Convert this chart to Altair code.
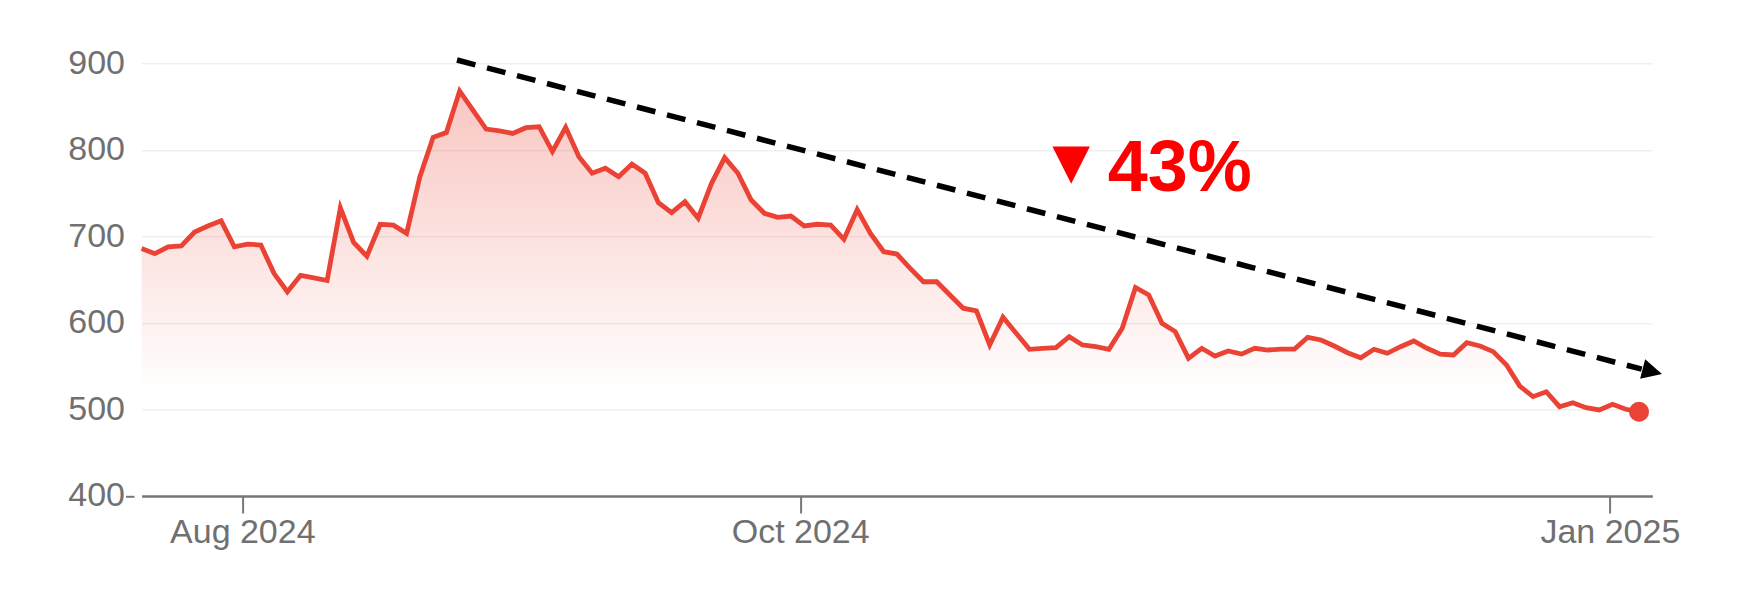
import altair as alt
import pandas as pd

# ---- data (evenly spaced trading sessions) ----
price = [
    686, 680, 688, 689, 705, 712, 718, 688, 691, 690,
    657, 636, 655, 652, 649, 733, 693, 677, 714,
    713, 703.5, 769, 814.5, 820, 868, 846, 824, 822, 819, 825.6, 826.7, 798, 826, 792, 773, 778.7, 769,
    783.6, 773, 739, 727.4, 740, 721, 761, 791, 773, 742, 726.7, 722, 723.5, 712, 714, 713, 696.6, 731,
    703.5, 682.3, 679.6, 663, 647.6, 647.6, 632.3, 617, 614, 574.5, 606.5, 588, 569.5, 570.7, 571.4, 584, 574.5, 572.5,
    569.5, 593.8, 641, 632.3, 599.6, 590, 559, 570.7, 561.8, 567.6, 564, 570.7, 568.7, 569.8, 569.8, 583.4, 580.3, 573.3,
    565.6, 559.8, 569.5, 564.9, 572.5, 579.1, 570.7, 564, 563, 577.2, 573.3, 566.8, 551.4, 527, 514.8, 520.5, 503.2,
    507.8, 502, 499.4, 506, 500.2, 497.4,
]
session = list(range(len(price)))

x_tick_labels = ["Aug 2024", "Oct 2024", "Jan 2025"]
x_tick_session = [7.6, 49.7, 110.8]
y_ticks = [400, 500, 600, 700, 800, 900]

# trend arrow (session, price) and the annotation
arrow_session = [23.8, 113.2]
arrow_price = [903.8, 546.6]
arrow_head_session = [114.0]
arrow_head_price = [543.9]
arrow_angle = 14.6

label_text = ["43%"]
label_session = [72.9]
label_price = [752.8]
tri_text = ["▼"]
tri_session = [70.14]
tri_price = [783.1]

df = pd.DataFrame({"session": session, "price": price})
last = df.iloc[[-1]]
arrow_df = pd.DataFrame({"session": arrow_session, "price": arrow_price})
head_df = pd.DataFrame({"session": arrow_head_session, "price": arrow_head_price})
label_df = pd.DataFrame({"session": label_session, "price": label_price, "t": label_text})
tri_df = pd.DataFrame({"session": tri_session, "price": tri_price, "t": tri_text})

RED = "#EA4335"
GRAY = "#707070"
FONT = "Liberation Sans"

x_scale = alt.Scale(domain=[0, 114], nice=False, zero=False)
y_scale = alt.Scale(domain=[400, 900], nice=False, zero=False)

label_js = "[" + ",".join("'%s'" % s for s in x_tick_labels) + "]"
pos_js = "[" + ",".join(str(v) for v in x_tick_session) + "]"

x_axis = alt.Axis(
    values=x_tick_session,
    labelExpr=f"{label_js}[indexof({pos_js}, datum.value)]",
    title=None, grid=False,
    domainColor="#777777", domainWidth=2.5,
    tickColor="#777777", tickWidth=2, tickSize=17,
    labelFont=FONT, labelFontSize=34, labelColor=GRAY, labelPadding=3,
    labelFlush=False, labelOverlap=False,
)
y_axis = alt.Axis(
    values=y_ticks, title=None, grid=True, gridColor="#efefef", gridWidth=1.5,
    domain=False, ticks=True, tickSize=8.5, tickWidth=2,
    tickColor={"condition": {"test": "datum.value === 400", "value": "#777777"}, "value": "rgba(0,0,0,0)"},
    offset=7.6, labelPadding=1,
    labelFont=FONT, labelFontSize=34, labelColor=GRAY,
)

X = alt.X("session:Q", scale=x_scale, axis=x_axis)
Y = alt.Y("price:Q", scale=y_scale, axis=y_axis)

area = alt.Chart(df).mark_area(
    color=alt.Gradient(
        gradient="linear", x1=0, y1=0, x2=0, y2=1,
        stops=[alt.GradientStop(color="rgba(234,67,53,0.30)", offset=0),
               alt.GradientStop(color="rgba(234,67,53,0.0)", offset=0.75)],
    )
).encode(x=X, y=Y, y2=alt.datum(400))

line = alt.Chart(df).mark_line(color=RED, strokeWidth=4.8).encode(x="session:Q", y="price:Q")

dot = alt.Chart(last).mark_point(filled=True, color=RED, opacity=1, size=400).encode(
    x="session:Q", y="price:Q")

arrow = alt.Chart(arrow_df).mark_line(
    color="black", strokeWidth=5.5, strokeDash=[19, 12], strokeCap="butt", clip=False
).encode(x="session:Q", y="price:Q")

head = alt.Chart(head_df).mark_point(
    shape="M-1,-1L1,0L-1,1Z", filled=True, color="black", opacity=1, size=400,
    angle=arrow_angle, clip=False,
).encode(x="session:Q", y="price:Q")

label = alt.Chart(label_df).mark_text(
    font=FONT, fontSize=72, fontWeight="bold", color="#ff0000",
    align="left", baseline="alphabetic",
).encode(x="session:Q", y="price:Q", text="t:N")

tri = alt.Chart(tri_df).mark_text(
    font=FONT, fontSize=64, color="#ff0000", align="center", baseline="middle",
).encode(x="session:Q", y="price:Q", text="t:N")

chart = alt.layer(area, line, arrow, head, dot, tri, label).properties(
    width=1510.7, height=432.7,
    autosize=alt.AutoSizeParams(type="none"),
    padding={"left": 133.6, "top": 55.3, "right": 86, "bottom": 80},
).configure(background="white").configure_view(stroke=None)

chart.save("out.html", embed_options={"renderer": "svg", "actions": False})
